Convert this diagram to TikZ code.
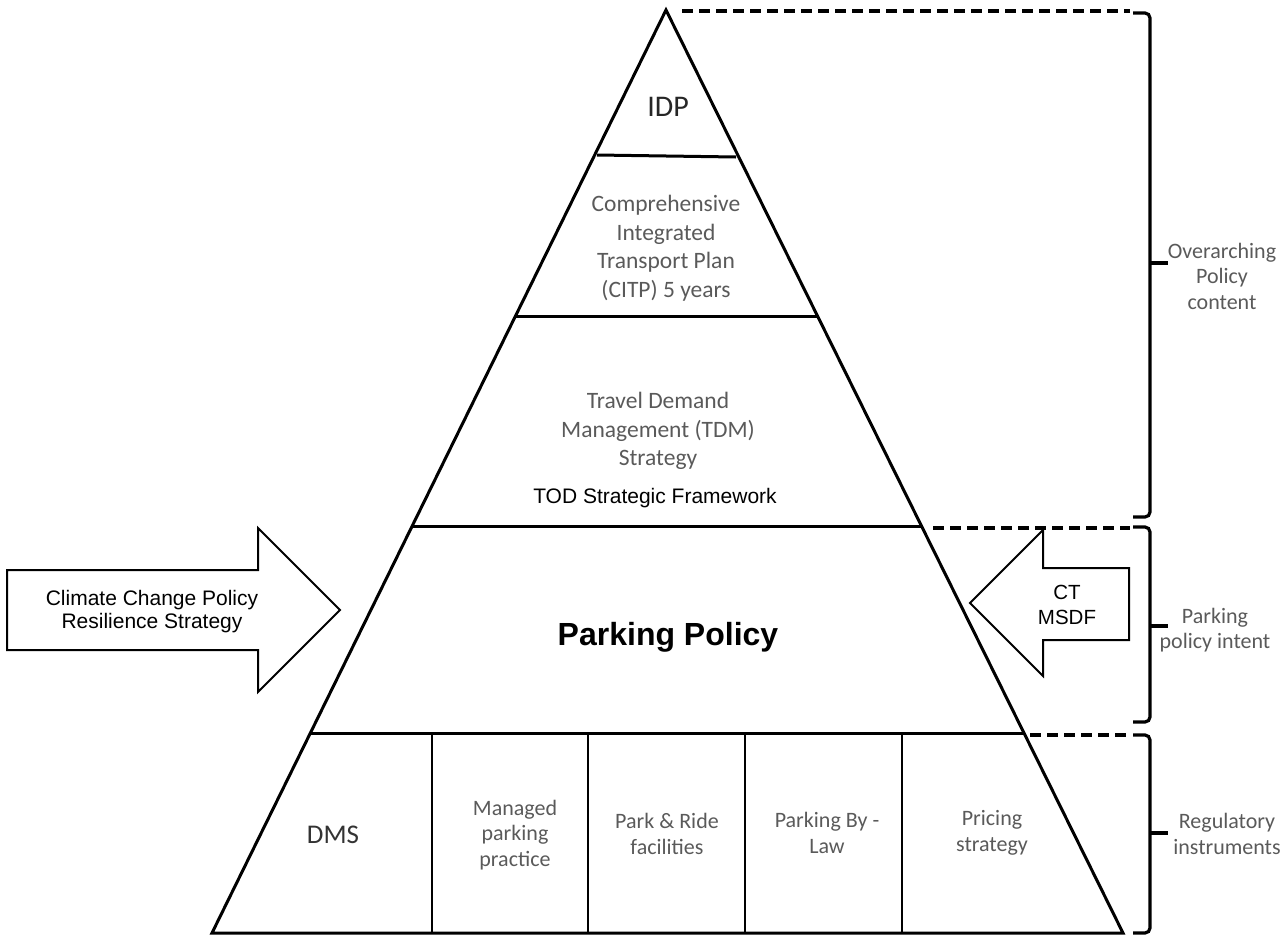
\documentclass[tikz,border=0pt]{standalone}
\usepackage{fontspec}
\setmainfont{Carlito}
\newfontfamily\arialfont{Liberation Sans}
\usetikzlibrary{calc}
\definecolor{txtgray}{HTML}{5A5A5A}
\tikzset{
  edge/.style={line width=3pt, line join=miter},
  divider/.style={line width=2.8pt},
  guide/.style={line width=3.5pt, dash pattern=on 11pt off 6pt},
  bracket/.style={line width=3.2pt, rounded corners=5pt},
  blockarrow/.style={line width=2pt, fill=white, line join=miter},
  greytext/.style={text=txtgray, align=center, inner sep=0pt, font=\fontsize{23.5}{28.5}\selectfont},
  sidetext/.style={text=txtgray, align=center, inner sep=0pt, font=\fontsize{22}{25.5}\selectfont},
  arialtext/.style={align=center, inner sep=0pt, font=\arialfont\fontsize{21}{23}\selectfont}
}

\begin{document}
\begin{tikzpicture}[x=1pt, y=-1pt]
			%%%%% START %%%%%
			\useasboundingbox (0,0) rectangle (1288,935);
			
			% pyramid outline
			\coordinate (apex) at (666,10);
			\coordinate (bl) at (212,933);
			\coordinate (br) at (1123,933);
			\draw[edge] (bl) -- (apex) -- (br) -- cycle;
			
			% layer lines
			\draw[edge] (597,155) -- (736,157);
			\foreach \y in {317,527,733}
				\draw[edge] ($(apex)!{(\y-10)/923}!(bl)$) -- ($(apex)!{(\y-10)/923}!(br)$);
			
			% instrument cells
			\foreach \x in {432,588,745,902}
				\draw[divider] (\x,733) -- (\x,933);
			
			% dashed guides and brackets
			\draw[guide] (682,11) -- (1130,11);
			\draw[guide] (933,528) -- (1130,528);
			\draw[guide] (1030,735) -- (1130,735);
			
			\draw[bracket] (1133,13) -- (1150,13) -- (1150,517) -- (1133,517);
			\draw[line width=3.2pt] (1150,263) -- (1168,263);
			\draw[bracket] (1133,527) -- (1150,527) -- (1150,722) -- (1133,722);
			\draw[line width=3.2pt] (1150,626) -- (1168,626);
			\draw[bracket] (1133,735) -- (1150,735) -- (1150,933) -- (1133,933);
			\draw[line width=3.2pt] (1150,833) -- (1168,833);
			
			% block arrows
			\draw[blockarrow] (7,570) -- (258,570) -- (258,528) -- (340,610) -- (258,692) -- (258,650) -- (7,650) -- cycle;
			\draw[blockarrow] (1129,568) -- (1043,568) -- (1043,530) -- (970,603) -- (1043,676) -- (1043,640) -- (1129,640) -- cycle;
			
			% labels
			\node[inner sep=0pt, text=black!85, font=\fontsize{30}{32}\selectfont] (idp) at (668,107) {IDP};
			\node[greytext] (citp) at (666,248) {Comprehensive\\Integrated\\Transport Plan\\(CITP) 5 years};
			\node[greytext] (tdm) at (658,431) {Travel Demand\\Management (TDM)\\Strategy};
			\node[arialtext] (tod) at (655,498) {TOD Strategic Framework};
			\node[inner sep=0pt, font=\arialfont\bfseries\fontsize{32}{36}\selectfont] (parking) at (668,637) {Parking Policy};
			
			\node[inner sep=0pt, text=black!80, font=\fontsize{27}{30}\selectfont] (dms) at (333,835) {DMS};
			\node[sidetext] (managed) at (515,835) {Managed\\parking\\practice};
			\node[sidetext] (parkride) at (667,834) {Park \& Ride\\facilities};
			\node[sidetext] (bylaw) at (827,833) {Parking By -\\Law};
			\node[sidetext] (pricing) at (992,833) {Pricing\\strategy};
			
			\node[arialtext] (climate) at (152,612) {Climate Change Policy\\Resilience Strategy};
			\node[arialtext, font=\arialfont\fontsize{20.5}{25}\selectfont] (msdf) at (1067,605) {CT\\MSDF};
			
			\node[sidetext] (overarching) at (1222,276) {Overarching\\Policy\\content};
			\node[sidetext] (intent) at (1215,630) {Parking\\policy intent};
			\node[sidetext] (regulatory) at (1227,834) {Regulatory\\instruments};
			%%%%% END %%%%%
\end{tikzpicture}
\end{document}
